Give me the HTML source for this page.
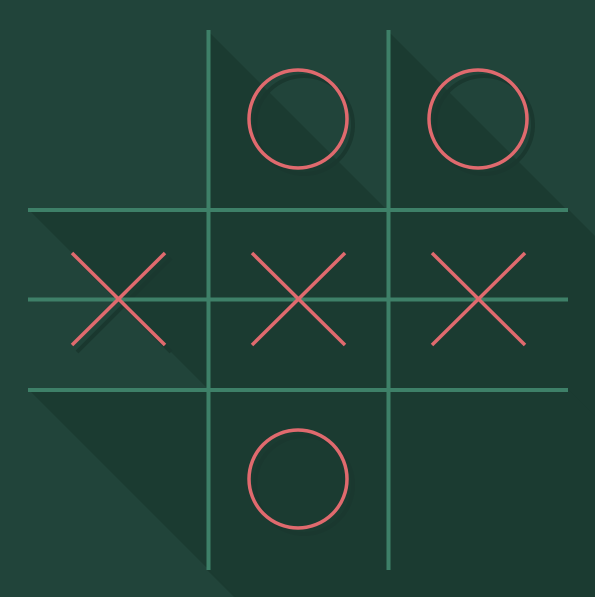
<!DOCTYPE html>
<html><head><style>html,body{margin:0;padding:0;background:#21443a;width:595px;height:597px;overflow:hidden;}svg{display:block;overflow:hidden}</style></head>
<body>
<svg width="595" height="597" viewBox="0 0 595 597">
<rect width="595" height="597" fill="#21443a"/>
<g fill="#1b3b31">
<polygon points="207,30 595,418 595,597 234,597 207,570"/>
<polygon points="387,30 595,238 595,597 414,597 387,570"/>
<polygon points="28,209 568,209 595,236 595,597 416,597"/>
<polygon points="28,389 568,389 595,416 595,597 236,597"/>
</g>
<g fill="none" stroke="#1a382f" stroke-width="4">
<circle cx="304" cy="125" r="49"/><circle cx="484" cy="125" r="49"/><circle cx="304" cy="485" r="49"/>
<path d="M77,258 L171,352 M171,258 L77,352"/>
</g>
<g stroke="#3e8068" stroke-width="4">
<line x1="208.5" y1="30" x2="208.5" y2="570"/>
<line x1="388.5" y1="30" x2="388.5" y2="570"/>
<line x1="28" y1="210" x2="568" y2="210"/>
<line x1="28" y1="390" x2="568" y2="390"/>
<line x1="28" y1="299.5" x2="568" y2="299.5"/>
</g>
<g fill="none" stroke="#e06a6e" stroke-width="3.5">
<circle cx="298" cy="119" r="49"/>
<circle cx="478" cy="119" r="49"/>
<circle cx="298" cy="479" r="49"/>
<path d="M72,253 L165,345 M165,253 L72,345"/>
<path d="M252,253 L345,345 M345,253 L252,345"/>
<path d="M432,253 L525,345 M525,253 L432,345"/>
</g>
</svg>
</body></html>
